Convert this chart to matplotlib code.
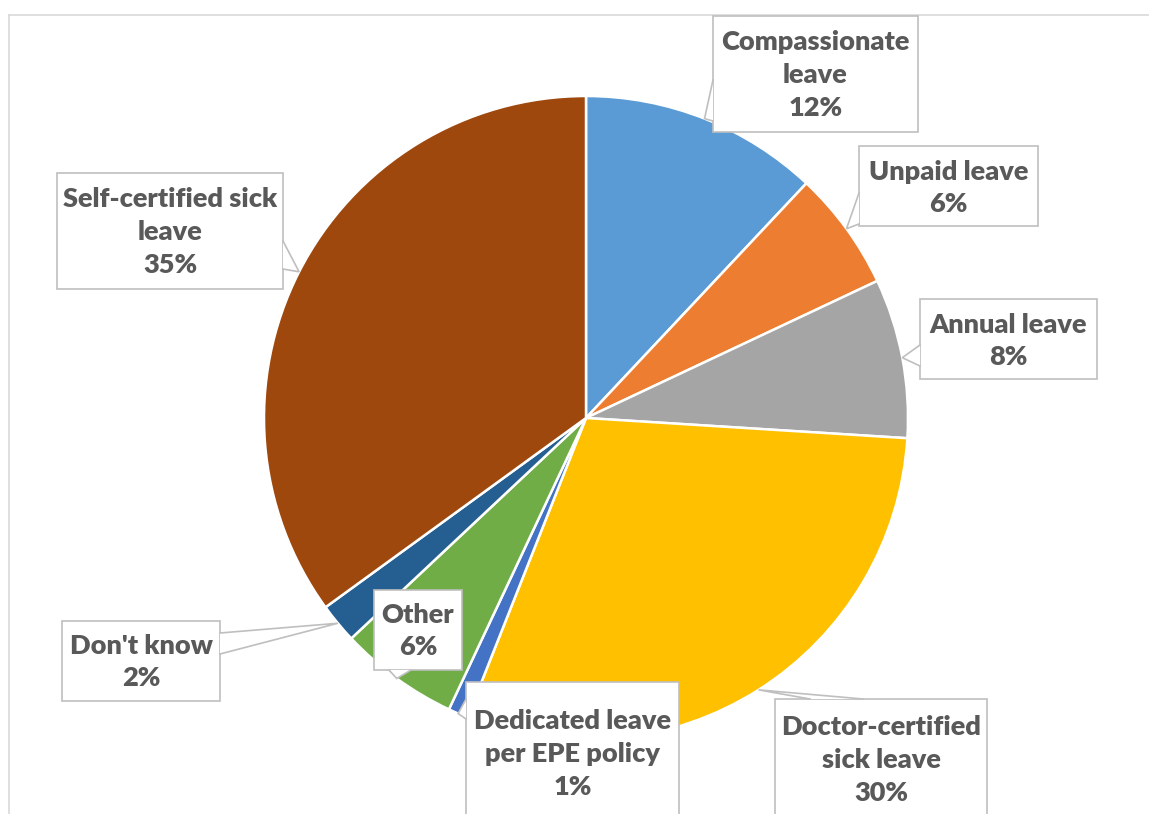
import matplotlib.pyplot as plt
from matplotlib.patches import Rectangle, Polygon
import numpy as np

# leave types and their share (%) of answers
categories = ["Compassionate\nleave", "Unpaid leave", "Annual leave",
              "Doctor-certified\nsick leave", "Dedicated leave\nper EPE policy",
              "Other", "Don't know", "Self-certified sick\nleave"]
shares = [12, 6, 8, 30, 1, 6, 2, 35]
colors = ["#5B9BD5", "#ED7D31", "#A5A5A5", "#FFC000", "#4472C4",
          "#70AD47", "#255E91", "#9E480E"]

# callout boxes in pixel coords: box (x0, y0, x1, y1), text centre y, tail base points
boxes = [
    ((713, 16, 918, 132), 75, ((713, 80), (713, 121))),
    ((859, 146, 1038, 226), 188, ((859, 193), (859, 224))),
    ((920, 299, 1097, 379), 341, ((920, 345), (920, 366))),
    ((775, 699, 987, 840), 760, ((810, 699), (863, 699))),
    ((466, 682, 679, 840), 754, ((466, 699), (466, 719))),
    ((374, 590, 462, 670), 631, ((389, 670), (411, 670))),
    ((62, 621, 220, 701), 662, ((220, 633), (220, 654))),
    ((57, 173, 283, 289), 232, ((283, 241), (283, 269))),
]

W, H = 1149, 814
cx, cy, r = 586, 418, 322
txt_col = "#595959"
line_col = "#BFBFBF"

fig = plt.figure(figsize=(W / 100, H / 100), dpi=100)
ax = fig.add_axes([0, 0, 1, 1])

# chart area border (top and left visible)
ax.plot([9, W + 5], [15, 15], color="#D9D9D9", lw=1.2)
ax.plot([9, 9], [15, H + 5], color="#D9D9D9", lw=1.2)

# y axis is flipped below, so start at -90 and go counterclockwise in data
# space, which shows as clockwise from 12 o'clock on screen
wedges, _ = ax.pie(shares, colors=colors, startangle=-90, counterclock=True,
                   center=(cx, cy), radius=r, frame=True,
                   wedgeprops=dict(edgecolor="white", linewidth=1.8))
ax.set_xlim(0, W)
ax.set_ylim(H, 0)  # pixel coords, y down
ax.set_aspect("equal")
ax.axis("off")

cum = np.cumsum(shares) - np.array(shares) / 2
for i, lab in enumerate(categories):
    ang = np.deg2rad(-90 + cum[i] * 3.6)
    tip = (cx + r * np.cos(ang), cy + r * np.sin(ang))
    (x0, y0, x1, y1), ty, (b1, b2) = boxes[i]
    ax.add_patch(Rectangle((x0, y0), x1 - x0, y1 - y0, facecolor="white",
                           edgecolor=line_col, lw=1.2, zorder=5))
    # cover the box edge under the tail, then draw the two tail lines
    ax.add_patch(Polygon([b1, tip, b2], closed=True, facecolor="white",
                         edgecolor="none", zorder=6))
    ax.plot([b1[0], tip[0], b2[0]], [b1[1], tip[1], b2[1]],
            color=line_col, lw=1.2, zorder=7, solid_joinstyle="miter")
    ax.text((x0 + x1) / 2, ty, "%s\n%d%%" % (lab, shares[i]), ha="center",
            va="center", fontsize=19.5, fontweight="heavy", color=txt_col,
            family="Lato", linespacing=1.43, zorder=8)

fig.savefig("out.png", dpi=100)
